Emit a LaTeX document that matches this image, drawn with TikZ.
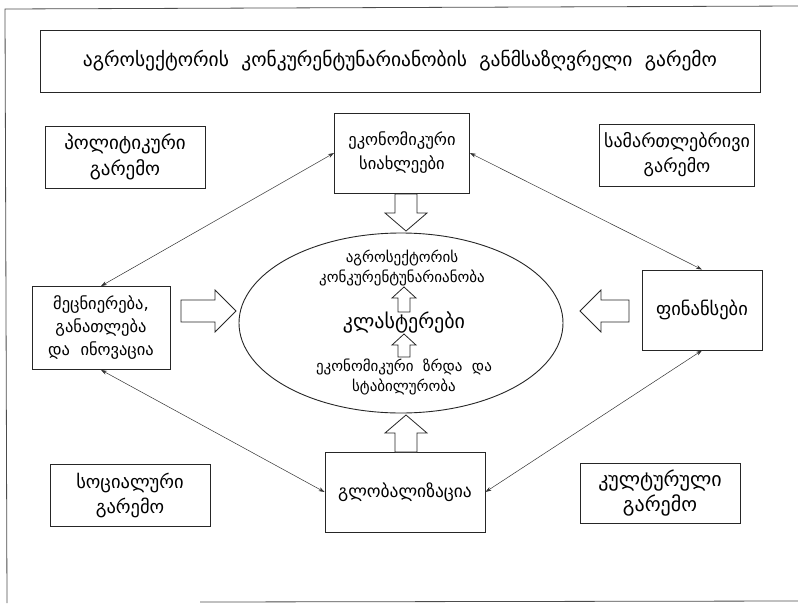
\documentclass[tikz,border=0pt]{standalone}
\usepackage{fontspec}
\setmainfont{DejaVu Sans}
\usetikzlibrary{arrows.meta,calc,shapes.geometric}
\newcommand{\fsz}[1]{\fontsize{#1}{#1*1.35}\selectfont}
\begin{document}
\begin{tikzpicture}[x=1pt,y=-1pt,
  box/.style={draw=black!85,line width=0.9pt,align=center,inner sep=2pt},
  link/.style={draw=black!80,line width=0.5pt,{Stealth[length=6pt,width=4pt]}-{Stealth[length=6pt,width=4pt]}},
  hollow/.style={draw=black!85,line width=0.8pt,fill=white},
  etext/.style={align=center,font=\fontsize{15}{20}\selectfont}]
\useasboundingbox (0,0) rectangle (798,603);
% page frame
\draw[black!70,line width=0.8pt] (798,6) -- (5,9) -- (7,603);
\draw[black!70,line width=0.8pt] (200,602) -- (798,601);
% title
\node[box,minimum width=720,minimum height=62,font=\fontsize{19.5}{22}\selectfont] (title) at (400,61)
  {აგროსექტორის\ \ კონკურენტუნარიანობის\ \ განმსაზღვრელი\ \ გარემო};
% corner boxes
\node[box,minimum width=160,minimum height=62,font=\fontsize{19}{26}\selectfont] (pol) at (125,157) {პოლიტიკური\\გარემო};
\node[box,minimum width=155,minimum height=62,font=\fontsize{18}{25}\selectfont] (leg) at (677,155) {სამართლებრივი\\გარემო};
\node[box,minimum width=160,minimum height=62,font=\fontsize{18.5}{25}\selectfont] (soc) at (130,495) {სოციალური\\გარემო};
\node[box,minimum width=160,minimum height=60,font=\fontsize{20}{25}\selectfont] (cul) at (660,493) {კულტურული\\გარემო};
% main boxes
\node[box,minimum width=135,minimum height=80,font=\fontsize{16.5}{24}\selectfont] (eco) at (402,153) {ეკონომიკური\\სიახლეები};
\node[box,minimum width=138,minimum height=83,font=\fontsize{16.5}{23}\selectfont] (sci) at (101,328) {მეცნიერება,\\განათლება\\და\ \ ინოვაცია};
\node[box,minimum width=120,minimum height=80,font=\fontsize{18.5}{24}\selectfont] (fin) at (702,310) {ფინანსები};
\node[box,minimum width=160,minimum height=80,font=\fontsize{17.5}{24}\selectfont] (glo) at (405,492) {გლობალიზაცია};
% ellipse
\node[draw=black!85,line width=0.9pt,ellipse,minimum width=324,minimum height=180] (ell) at (401,323) {};
\node[etext] (e1) at (402,268) {აგროსექტორის\\კონკურენტუნარიანობა};
\node[font=\fontsize{20}{24}\selectfont] (e2) at (404,322) {კლასტერები};
\node[etext] (e3) at (404,377) {ეკონომიკური\ \ ზრდა\ \ და\\სტაბილურობა};
% diamond links
\draw[link] (sci.north) -- (eco.west);
\draw[link] (fin.north) -- (eco.east);
\draw[link] (sci.south) -- (glo.west);
\draw[link] (fin.south) -- (glo.east);
% hollow block arrows
\draw[hollow] (395,194) -- (417,194) -- (417,213) -- (427,213) -- (406,231) -- (385,213) -- (395,213) -- cycle;
\draw[hollow] (395,452) -- (417,452) -- (417,433) -- (427,433) -- (406,415) -- (385,433) -- (395,433) -- cycle;
\draw[hollow] (181,300) -- (215,300) -- (215,290) -- (236,311) -- (215,332) -- (215,322) -- (181,322) -- cycle;
\draw[hollow] (629,300) -- (601,300) -- (601,290) -- (580,311) -- (601,332) -- (601,322) -- (629,322) -- cycle;
\draw[hollow] (398,312) -- (410,312) -- (410,298) -- (416,298) -- (404,287) -- (392,298) -- (398,298) -- cycle;
\draw[hollow] (398,357) -- (410,357) -- (410,345) -- (416,345) -- (404,334) -- (392,345) -- (398,345) -- cycle;
\end{tikzpicture}
\end{document}
